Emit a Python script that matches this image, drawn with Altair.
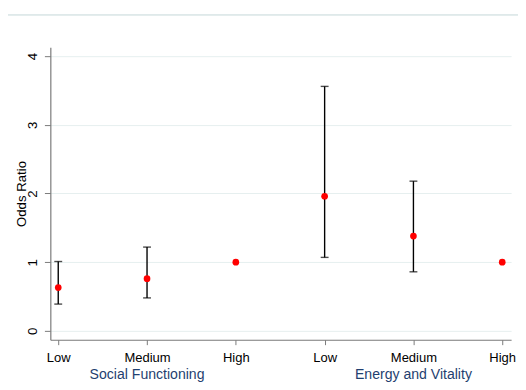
import altair as alt
import pandas as pd

positions = [1, 2, 3, 4, 5, 6]
levels = ["Low", "Medium", "High", "Low", "Medium", "High"]
odds = [0.63, 0.76, 1.0, 1.96, 1.38, 1.0]
lower = [0.39, 0.48, None, 1.07, 0.86, None]
upper = [1.01, 1.22, None, 3.56, 2.18, None]
groups = ["Social Functioning", "Energy and Vitality"]
group_pos = [2, 5]
y_ticks = [0, 1, 2, 3, 4]

df = pd.DataFrame({"pos": positions, "level": levels, "or": odds, "lo": lower, "hi": upper})
ci = df.dropna()
gdf = pd.DataFrame({"pos": group_pos, "group": groups})

W, H = 468, 297
FONT = "Liberation Sans"
AX = "#7a7a7a"

xscale = alt.Scale(domain=[0.911, 6.10], nice=False, zero=False)
yscale = alt.Scale(domain=[-0.129, 4.129], nice=False, zero=False)

lab_expr = "['','Low','Medium','High','Low','Medium','High'][datum.value]"

xaxis = alt.Axis(values=positions, labelExpr=lab_expr, title=None, grid=False,
                 domainColor=AX, tickColor=AX, tickSize=5, labelFont=FONT,
                 labelFontSize=13.2, labelColor="black", labelPadding=7,
                 domainWidth=1.2, labelFlush=False, labelOverlap=False)
yaxis = alt.Axis(values=y_ticks, format="d", title="Odds Ratio", grid=True, gridColor="#e6efef",
                 domainColor=AX, tickColor=AX, tickSize=6, labelFont=FONT,
                 labelFontSize=13.5, labelColor="black", labelAngle=-90,
                 labelAlign="center", labelBaseline="bottom", labelPadding=5,
                 titleFont=FONT, titleFontSize=13.4, titleFontWeight="normal",
                 titleColor="black", titleX=-29, titleY=H / 2, titleAngle=270,
                 titleAlign="center", titleBaseline="middle",
                 domainWidth=1.2, labelFlush=False)

base = alt.Chart(df)

points = base.mark_circle(color="#ff0000", opacity=1, size=46).encode(
    x=alt.X("pos:Q", scale=xscale, axis=xaxis),
    y=alt.Y("or:Q", scale=yscale, axis=yaxis),
)

rules = alt.Chart(ci).mark_rule(color="black", strokeWidth=1.4).encode(
    x=alt.X("pos:Q", scale=xscale),
    y=alt.Y("lo:Q", scale=yscale),
    y2="hi:Q",
)
caps_lo = alt.Chart(ci).mark_tick(color="black", orient="horizontal", size=8, thickness=1.4).encode(
    x=alt.X("pos:Q", scale=xscale), y=alt.Y("lo:Q", scale=yscale))
caps_hi = alt.Chart(ci).mark_tick(color="black", orient="horizontal", size=8, thickness=1.4).encode(
    x=alt.X("pos:Q", scale=xscale), y=alt.Y("hi:Q", scale=yscale))

gtext = alt.Chart(gdf).mark_text(font=FONT, fontSize=14.3, color="#1f3f70",
                                 baseline="alphabetic", clip=False).encode(
    x=alt.X("pos:Q", scale=xscale),
    y=alt.value(H + 40),
    text="group:N",
)

topline = alt.Chart(gdf).mark_rule(color="#dce7e8", strokeWidth=1.2, clip=False).encode(
    x=alt.value(-43), x2=alt.value(W + 7), y=alt.value(-33))

chart = alt.layer(rules, caps_lo, caps_hi, points, gtext, topline).properties(
    width=W, height=H,
    autosize=alt.AutoSizeParams(type="none"),
    padding={"left": 43, "top": 37, "right": 7, "bottom": 40},
).configure_view(stroke=None)

chart.save("out.html", embed_options={"renderer": "svg", "actions": False})
